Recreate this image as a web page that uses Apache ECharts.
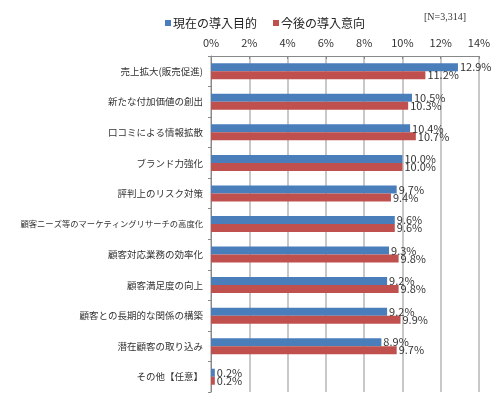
<!DOCTYPE html>
<html lang="ja" style="height: 100%">
<head>
  <meta charset="utf-8">
</head>
<body style="height: 100%; margin: 0; background: #fff">
  <div id="container" style="width: 500px; height: 398px"></div>
  <script type="text/javascript" src="https://cdn.jsdelivr.net/npm/echarts@6/dist/echarts.min.js"></script>
  <script type="text/javascript">
    var categories = [
      '売上拡大(販売促進)',
      '新たな付加価値の創出',
      '口コミによる情報拡散',
      'ブランド力強化',
      '評判上のリスク対策',
      '顧客ニーズ等のマーケティングリサーチの高度化',
      '顧客対応業務の効率化',
      '顧客満足度の向上',
      '顧客との長期的な関係の構築',
      '潜在顧客の取り込み',
      'その他【任意】'
    ];
    var seriesNames = ['現在の導入目的', '今後の導入意向'];
    var currentValues = [12.9, 10.5, 10.4, 10.0, 9.7, 9.6, 9.3, 9.2, 9.2, 8.9, 0.2];
    var futureValues = [11.2, 10.3, 10.7, 10.0, 9.4, 9.6, 9.8, 9.8, 9.9, 9.7, 0.2];
    var note = '[N=3,314]';

    var myChart = echarts.init(document.getElementById('container'));
    var font = '"Noto Sans CJK JP", sans-serif';

    function barLabel() {
      return {
        show: true,
        position: 'right',
        distance: 2,
        color: '#333',
        fontSize: 11,
        fontFamily: font,
        formatter: function (p) { return p.value.toFixed(1) + '%'; }
      };
    }

    myChart.setOption({
      animation: false,
      legend: {
        top: 12,
        left: 160,
        itemWidth: 6,
        itemHeight: 6,
        itemGap: 16,
        icon: 'rect',
        textStyle: { fontSize: 12, color: '#222', fontFamily: font, padding: [0, 0, 0, -3] },
        data: seriesNames
      },
      graphic: [{
        type: 'text',
        left: 424,
        top: 12,
        style: { text: note, fontSize: 10, fill: '#333', fontFamily: '"Liberation Serif", serif' }
      }],
      grid: { left: 211, right: 21, top: 56, bottom: 6, outerBoundsMode: 'none', containLabel: false },
      xAxis: {
        type: 'value',
        position: 'top',
        min: 0,
        max: 14,
        interval: 2,
        axisLine: { show: true, lineStyle: { color: '#888' } },
        axisTick: { show: true, inside: true, length: 3, lineStyle: { color: '#888' } },
        axisLabel: {
          color: '#333',
          fontSize: 11,
          fontFamily: font,
          margin: 8,
          formatter: '{value}%'
        },
        splitLine: { show: true, lineStyle: { color: '#c8c8c8', width: 2 } }
      },
      yAxis: {
        type: 'category',
        inverse: true,
        data: categories,
        axisLine: { show: true, lineStyle: { color: '#888' } },
        axisTick: { show: true, length: 3, lineStyle: { color: '#888' } },
        axisLabel: {
          color: '#333',
          fontSize: 9.5,
          fontFamily: font,
          margin: 8,
          formatter: function (v) {
            return v.length > 16 ? '{s|' + v + '}' : v;
          },
          rich: { s: { fontSize: 8.3, color: '#333', fontFamily: font } }
        }
      },
      series: [
        {
          name: seriesNames[0],
          type: 'bar',
          data: currentValues,
          barWidth: 8,
          barGap: '0%',
          itemStyle: { color: '#4a7ebb' },
          label: barLabel()
        },
        {
          name: seriesNames[1],
          type: 'bar',
          data: futureValues,
          barWidth: 8,
          barGap: '0%',
          itemStyle: { color: '#c0504d' },
          label: barLabel()
        }
      ]
    });
  </script>
</body>
</html>
